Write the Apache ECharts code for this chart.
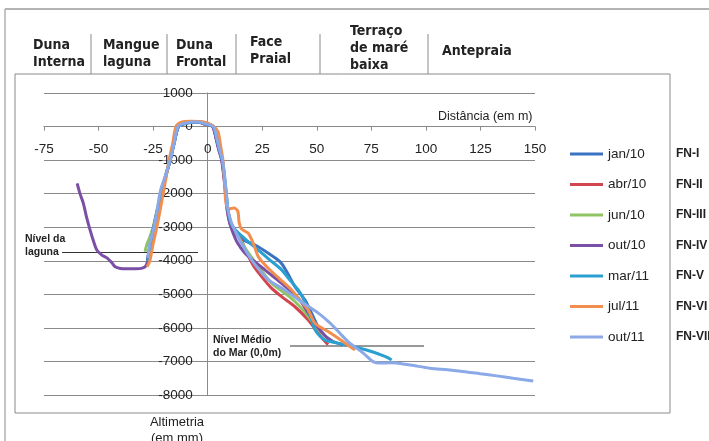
<!DOCTYPE html>
<html><head><meta charset="utf-8">
<script src="https://cdn.jsdelivr.net/npm/echarts@6/dist/echarts.min.js"></script>
<style>html,body{margin:0;padding:0;background:#fff;}#c{width:709px;height:441px;}</style>
</head><body><div id="c"></div>
<script>
const seriesNames = ['jan/10','abr/10','jun/10','out/10','mar/11','jul/11','out/11'];
const profileCodes = ['FN-I','FN-II','FN-III','FN-IV','FN-V','FN-VI','FN-VII'];
const seriesColors = ['#3b72c2','#d2454f','#8fc464','#7a4fa6','#2a9fd2','#f28f4e','#8aa9e6'];
const zoneNames = ['Duna\nInterna','Mangue\nlaguna','Duna\nFrontal','Face\nPraial','Terraço\nde maré\nbaixa','Antepraia'];
const xRange = [-75, 150, 25];
const yRange = [-8000, 1000, 1000];
const lagoonLabel = 'Nível da\nlaguna';
const seaLabel = 'Nível Médio\ndo Mar (0,0m)';

const jan10 = [[-27.6,-3950],[-26.2,-3500],[-24.7,-3000],[-23,-2500],[-21,-2000],[-19.3,-1500],[-17.2,-1000],[-15.4,-500],[-13.4,0],[-11,80],[-7,125],[-4,130],[-1,75],[2.4,0],[4,-350],[5.3,-700],[6.6,-1000],[7.6,-1500],[8.4,-2000],[9.2,-2500],[10.6,-2900],[13,-3200],[17,-3400],[21.7,-3530],[27.8,-3775],[33.1,-4025],[36.2,-4320],[40,-4770],[44.6,-5170],[47.6,-5560],[50.5,-5950],[54,-6250],[58,-6420],[62,-6500]];
const abr10 = [[-27.5,-3980],[-26.3,-3500],[-24.8,-3000],[-23.1,-2500],[-21.2,-2000],[-19.4,-1500],[-17.3,-1000],[-15.5,-500],[-13.5,0],[-11,85],[-7,125],[-4,125],[-1,65],[2.3,0],[3.9,-350],[5.2,-700],[6.5,-1000],[7.5,-1500],[8.3,-2000],[9,-2500],[10.3,-2900],[12.5,-3100],[14.8,-3300],[17.5,-3700],[21,-4150],[24.7,-4470],[29,-4800],[33.9,-5070],[40,-5370],[46,-5760],[50.7,-6160],[53,-6350],[55.2,-6500]];
const jun10 = [[-28.7,-3730],[-27.8,-3500],[-26.7,-3330],[-25,-3000],[-23.2,-2500],[-21.3,-2000],[-19.4,-1500],[-17.3,-1000],[-15.5,-500],[-13.5,0],[-11,80],[-7,125],[-4,125],[-1,70],[2.5,0],[4.1,-350],[5.4,-700],[6.7,-1000],[7.7,-1500],[8.5,-2000],[9.3,-2500],[10.8,-2900],[13,-3150],[15.5,-3450],[18.5,-3750],[23.2,-4170],[29.3,-4670],[34,-4900],[38,-5100],[42,-5350],[46,-5650],[50,-6000],[54,-6250],[58,-6450]];
const out10 = [[-59.8,-1690],[-58.5,-2000],[-57,-2280],[-55.5,-2700],[-53.9,-3080],[-52.3,-3420],[-50.8,-3680],[-48.5,-3830],[-46,-3920],[-44,-4050],[-42.4,-4180],[-40,-4230],[-37,-4240],[-33,-4240],[-30,-4220],[-28.3,-4150],[-27.3,-3950],[-26.2,-3500],[-24.7,-3000],[-23,-2500],[-21.1,-2000],[-19.3,-1500],[-17.2,-1000],[-15.4,-500],[-13.4,0],[-11,80],[-7,120],[-4,120],[-1,65],[2.2,0],[3.8,-350],[5.1,-700],[6.4,-1000],[7.4,-1500],[8.2,-2000],[9,-2500],[10.2,-2900],[11.5,-3150],[13.5,-3450],[17.1,-3775],[22,-4050],[26.2,-4270],[33.9,-4670],[38,-4900],[42,-5150],[46,-5550],[50,-5950],[54,-6250],[57,-6400]];
const mar11 = [[-27.5,-4010],[-26.3,-3500],[-24.7,-3000],[-23,-2500],[-21.1,-2000],[-19.3,-1500],[-17.2,-1000],[-15.4,-500],[-13.4,0],[-11,80],[-7,125],[-4,130],[-1,75],[2.5,0],[4.1,-350],[5.4,-700],[6.7,-1000],[7.7,-1500],[8.5,-2000],[9.3,-2500],[10.8,-2900],[13,-3100],[18,-3400],[23.2,-3680],[28,-3950],[33.9,-4270],[38,-4600],[41.5,-4870],[44,-5150],[46,-5460],[47.8,-5800],[49.2,-6060],[51.5,-6250],[54,-6370],[58,-6430],[63.7,-6510],[72.8,-6660],[78,-6770],[82,-6870],[84.3,-6955]];
const jul11 = [[-27.8,-4180],[-26.5,-4000],[-25,-3500],[-23.3,-3000],[-21.8,-2500],[-20.4,-2000],[-19,-1500],[-17.7,-1000],[-16,-500],[-14.5,0],[-12,130],[-8,160],[-3,150],[0,100],[2.5,20],[4.7,-150],[6,-600],[7,-1000],[7.6,-1500],[8,-2000],[8.6,-2350],[9.8,-2450],[12,-2430],[13.8,-2520],[14.4,-2850],[15.5,-3050],[18.6,-3180],[21,-3500],[23.2,-3880],[26,-4100],[29.3,-4320],[34,-4600],[38.5,-4870],[42,-5150],[46,-5460],[49.2,-5860],[55.2,-6110],[62.1,-6410],[67.5,-6660]];
const out11 = [[-27.4,-3920],[-26.5,-3500],[-24.6,-3000],[-23.2,-2500],[-21.6,-1900],[-19.3,-1450],[-17.2,-1000],[-15.4,-500],[-13.6,0],[-11,90],[-7,135],[-4.5,135],[-1,80],[2.6,0],[4.2,-350],[5.5,-700],[6.8,-1000],[7.8,-1500],[8.6,-2000],[9.4,-2500],[10.8,-2850],[11.7,-2980],[14,-3300],[17,-3650],[20.2,-3980],[24,-4300],[27.8,-4570],[35.4,-4870],[42.4,-5200],[50.7,-5560],[56,-5850],[60.6,-6160],[65,-6450],[71.3,-6750],[75.8,-7005],[79,-7050],[84,-7040],[92,-7100],[101.8,-7200],[110,-7250],[117,-7300],[125,-7370],[132.4,-7430],[140,-7500],[149.2,-7580]];
const seriesData = [jan10, abr10, jun10, out10, mar11, jul11, out11];

const chart = echarts.init(document.getElementById('c'), null, {renderer:'canvas'});
const tickFont = "'Liberation Sans', Arial, sans-serif";
const headFont = "'Liberation Sans Narrow','DejaVu Sans Condensed','Liberation Sans',sans-serif";
const gridColor = '#8a8a8a';

// grid geometry (pixels)
const G = {left:44, right:174, top:93, bottom:46, W:709, H:441};
const plotW = G.W - G.left - G.right, plotH = G.H - G.top - G.bottom;
// shift axes so they cross at the origin
const yAxisOffset = -plotW * (0 - xRange[0]) / (xRange[1] - xRange[0]);
const xAxisOffset = -plotH * (0 - yRange[0]) / (yRange[1] - yRange[0]);

const zoneX = [33, 103, 176, 250, 350, 442];
const zoneY = [37, 37, 37, 34, 23, 43];
const sepX = [91, 167, 236, 320, 428];

const graphics = [];
graphics.push({type:'line', shape:{x1:5,y1:9,x2:709,y2:9}, style:{stroke:'#9a9a9a', lineWidth:1.5}, silent:true});
graphics.push({type:'line', shape:{x1:5,y1:9,x2:5,y2:441}, style:{stroke:'#b0b0b0', lineWidth:1.5}, silent:true});
graphics.push({type:'rect', shape:{x:15,y:74,width:655,height:339}, style:{fill:'none', stroke:'#8a8a8a', lineWidth:1}, silent:true});
sepX.forEach(x => graphics.push({type:'line', shape:{x1:x,y1:34,x2:x,y2:74}, style:{stroke:'#8a8a8a', lineWidth:1}, silent:true}));
zoneNames.forEach((t,i) => graphics.push({type:'text', x:zoneX[i], y:zoneY[i], style:{text:t, font:'bold 14px '+headFont, fill:'#222', lineHeight:17}, silent:true}));
graphics.push({type:'text', x:25, y:233, style:{text:lagoonLabel, font:'bold 10.5px '+tickFont, fill:'#222', lineHeight:13}, silent:true});
graphics.push({type:'line', shape:{x1:62,y1:252.5,x2:198,y2:252.5}, style:{stroke:'#333', lineWidth:1}, silent:true});
graphics.push({type:'text', x:213, y:334, style:{text:seaLabel, font:'bold 10.5px '+tickFont, fill:'#222', lineHeight:13}, silent:true});
graphics.push({type:'line', shape:{x1:290,y1:346,x2:424,y2:346}, style:{stroke:'#333', lineWidth:1}, silent:true});
graphics.push({type:'text', x:438, y:110, style:{text:'Distância (em m)', font:'12.5px '+tickFont, fill:'#222'}, silent:true});
graphics.push({type:'text', x:177, y:414, style:{text:'Altimetria\n(em mm)', font:'13px '+tickFont, fill:'#222', align:'center', lineHeight:16}, silent:true});
profileCodes.forEach((t,i) => graphics.push({type:'text', x:676, y:148 + i*30.5, style:{text:t, font:'bold 12px '+tickFont, fill:'#222'}, silent:true}));

chart.setOption({
  animation:false,
  backgroundColor:'#fff',
  grid:{left:G.left, right:G.right, top:G.top, bottom:G.bottom, containLabel:false, outerBoundsMode:'none'},
  xAxis:{type:'value', min:xRange[0], max:xRange[1], interval:xRange[2], position:'bottom', offset:xAxisOffset,
    axisLine:{onZero:false, lineStyle:{color:gridColor}},
    axisTick:{show:true, length:4, lineStyle:{color:gridColor}},
    axisLabel:{margin:16, fontSize:13.5, fontFamily:tickFont, color:'#222', formatter:v => String(v)},
    splitLine:{show:false}},
  yAxis:{type:'value', min:yRange[0], max:yRange[1], interval:yRange[2], position:'left', offset:yAxisOffset,
    axisLine:{show:true, onZero:false, lineStyle:{color:gridColor}},
    axisTick:{show:false},
    axisLabel:{margin:15, fontSize:13.5, fontFamily:tickFont, color:'#222', formatter:v => String(v)},
    splitLine:{show:true, lineStyle:{color:gridColor, width:1}}},
  legend:{orient:'vertical', left:570, top:147, padding:0, itemWidth:33, itemHeight:14, itemGap:16.5,
    icon:'path://M0,0M0,5.5L33,5.5L33,8.5L0,8.5ZM33,14',
    data:seriesNames, textStyle:{fontSize:13.5, fontFamily:tickFont, color:'#222'}},
  graphic:graphics,
  series: seriesNames.map((n,i) => ({
    name:n, type:'line', data:seriesData[i], smooth:0.3,
    symbol:'none', showSymbol:false, z:2+i,
    lineStyle:{color:seriesColors[i], width:3}, itemStyle:{color:seriesColors[i]}
  }))
});
</script></body></html>
